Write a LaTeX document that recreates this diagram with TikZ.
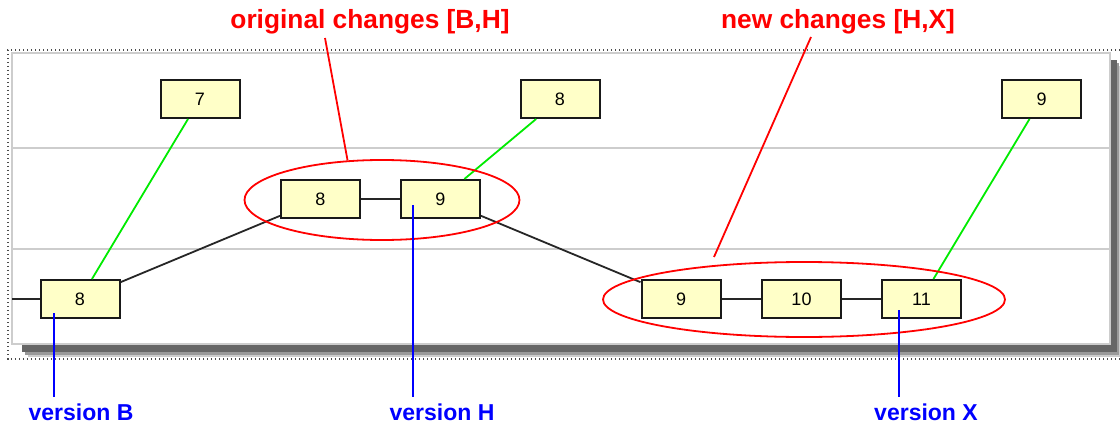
\documentclass[tikz,border=0pt]{standalone}
\usepackage{fontspec}
\setmainfont{Liberation Sans}
\usetikzlibrary{shapes.geometric}
\definecolor{boxfill}{RGB}{255,255,200}
\definecolor{gline}{RGB}{0,235,0}
\definecolor{rline}{RGB}{255,0,0}
\definecolor{bline}{RGB}{0,0,255}
\definecolor{grid}{RGB}{205,205,205}
\tikzset{
  verbox/.style={draw=black!90, line width=2pt, fill=boxfill, minimum width=79pt, minimum height=38pt, inner sep=0pt, font=\fontsize{18}{18}\selectfont},
  link/.style={draw=black!85, line width=1.8pt},
  merge/.style={draw=gline, line width=1.8pt},
  redline/.style={draw=rline, line width=1.8pt},
  blueline/.style={draw=bline, line width=1.8pt},
  redlabel/.style={text=rline, font=\fontsize{26.3}{26.3}\selectfont\bfseries, anchor=base, inner sep=1pt},
  bluelabel/.style={text=bline, font=\fontsize{23}{23}\selectfont\bfseries, anchor=base, inner sep=1pt},
  group/.style={ellipse, draw=rline, line width=1.8pt, inner sep=0pt},
}
\begin{document}
\begin{tikzpicture}[x=1pt, y=-1pt]
\useasboundingbox (0,0) rectangle (1120,423);
% outer dotted frame
\draw[black!70, line width=1.2pt, dash pattern=on 1.2pt off 2.8pt] (1120,50) -- (8,50) -- (8,359) -- (1120,359);
% shadow
\fill[black!20] (28,66) rectangle (1120,357);
\fill[black!40] (25,63) rectangle (1119,355);
\fill[black!60] (22,60) rectangle (1117,352);
% panel
\draw[draw=grid, line width=2.4pt, fill=white] (12,53) rectangle (1110,344);
\draw[grid, line width=1.6pt] (12,148) -- (1109,148);
\draw[grid, line width=1.6pt] (12,249) -- (1109,249);
% boxes
\node[verbox] (t7) at (200,99) {7};
\node[verbox] (t8) at (560,99) {8};
\node[verbox] (t9) at (1041.5,99) {9};
\node[verbox] (m8) at (320.5,199) {8};
\node[verbox] (m9) at (440.5,199) {9};
\node[verbox] (b8) at (80,299) {8};
\node[verbox] (b9) at (681,299) {9};
\node[verbox] (b10) at (801.5,299) {10};
\node[verbox] (b11) at (921.5,299) {11};
\coordinate (lstub) at (12,299);
% connectors
\draw[link] (lstub) -- (b8);
\draw[link] (b8) -- (m8);
\draw[link] (m8) -- (m9);
\draw[link] (m9) -- (b9);
\draw[link] (b9) -- (b10);
\draw[link] (b10) -- (b11);
\draw[merge] (t7) -- (b8);
\draw[merge] (t8) -- (m9);
\draw[merge] (t9) -- (b11);
% groups
\node[group, minimum width=275pt, minimum height=80pt] (e1) at (382,200) {};
\node[group, minimum width=402pt, minimum height=75pt] (e2) at (804,299.5) {};
% red labels
\node[redlabel] (l1) at (370,28.5) {original changes [B,H]};
\node[redlabel] (l2) at (838,28.5) {new changes [H,X]};
\coordinate (p1) at (325,38);
\coordinate (p2) at (811,37);
\coordinate (q2) at (714,257);
\draw[redline] (p1) -- (e1.131.8);
\draw[redline] (p2) -- (q2);
% blue labels
\node[bluelabel] (vB) at (81,420) {version B};
\node[bluelabel] (vH) at (442,420) {version H};
\node[bluelabel] (vX) at (926,420) {version X};
\coordinate (cB) at (54,313);
\coordinate (cH) at (413,205);
\coordinate (cX) at (899,310);
\draw[blueline] (cB) -- (cB |- 0,397);
\draw[blueline] (cH) -- (cH |- 0,397);
\draw[blueline] (cX) -- (cX |- 0,397);
\end{tikzpicture}
\end{document}
